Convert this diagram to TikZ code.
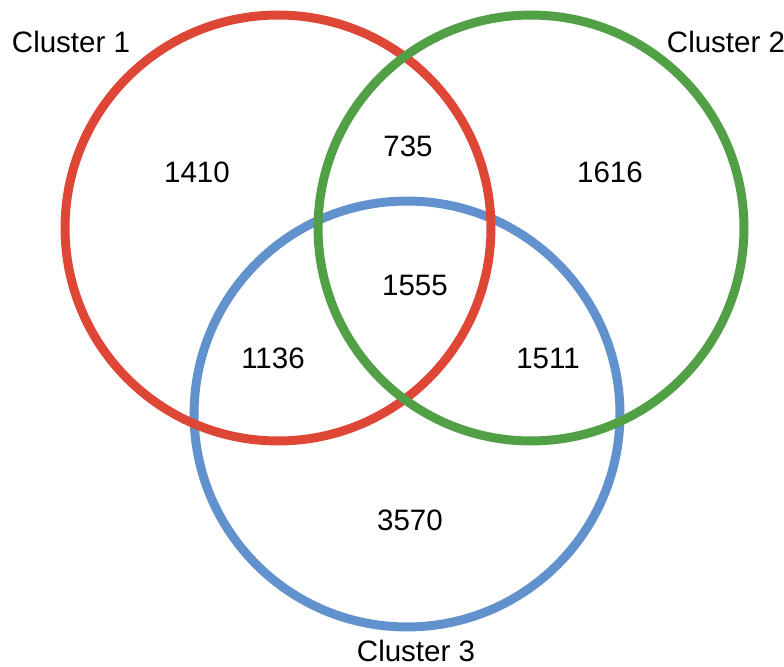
\documentclass[tikz,border=0pt]{standalone}
\usepackage{fontspec}
\setmainfont{Liberation Sans}
\usepackage{tikz}

\definecolor{setred}{RGB}{222,70,54}
\definecolor{setgreen}{RGB}{82,160,70}
\definecolor{setblue}{RGB}{98,146,206}

\begin{document}
\begin{tikzpicture}[x=0.02cm, y=-0.02cm, font=\fontsize{16.8}{20}\selectfont,
    set/.style={circle, draw, line width=5.1pt, minimum size=8.52cm, inner sep=0pt},
    count/.style={inner sep=0pt}]
    \useasboundingbox (0,0) rectangle (784,666);

    % Sets {c3, c1, c2}
    \node [set, draw=setblue]   (c3) at (407,414) {};
    \node [set, draw=setred]    (c1) at (278,228) {};
    \node [set, draw=setgreen]  (c2) at (531,228) {};

    % Set names
    \node [count]   (n1) at (71,42)   {Cluster 1};
    \node [count]   (n2) at (726,42)  {Cluster 2};
    \node [count]   (n3) at (416,651) {Cluster 3};

    % Counts
    \node [count]   (a1)   at (197,172) {1410};
    \node [count]   (a2)   at (610,172) {1616};
    \node [count]   (a3)   at (410,520) {3570};
    \node [count]   (a12)  at (408,146) {735};
    \node [count]   (a13)  at (273,358) {1136};
    \node [count]   (a23)  at (548,358) {1511};
    \node [count]   (a123) at (415,285) {1555};

\end{tikzpicture}
\end{document}
